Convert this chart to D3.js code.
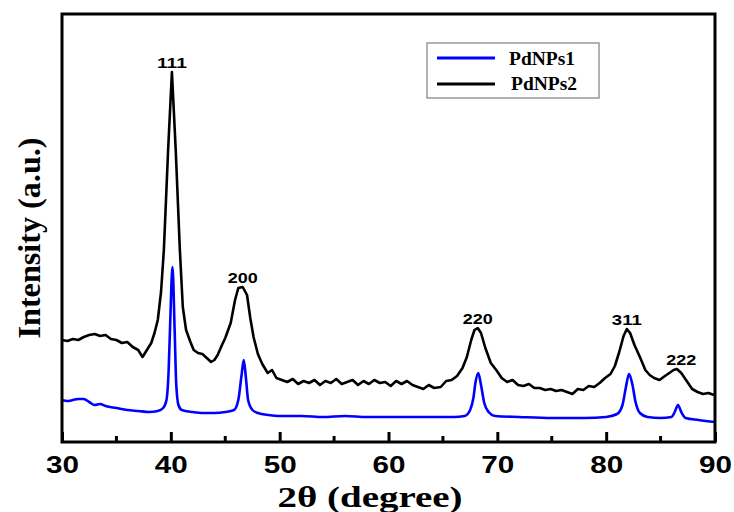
<!DOCTYPE html>
<html>
<head>
<meta charset="utf-8">
<script src="https://cdn.jsdelivr.net/npm/d3@7"></script>
<style>
  body { margin: 0; background: #fff; }
</style>
</head>
<body>
<div id="chart"></div>
<script>
// XRD patterns (2theta in degree, intensity in a.u.)
var angle2 = [30.0, 30.5, 31.0, 31.5, 32.0, 32.5, 33.0, 33.5, 34.0, 34.5, 35.0, 35.5, 36.0, 36.5, 37.0, 37.4, 37.8, 38.2, 38.5, 38.8,
  39.1, 39.36, 39.75, 40.1, 40.45, 40.83, 41.1, 41.4, 41.8, 42.1, 42.5, 42.9, 43.3, 43.7, 44.0, 44.3, 44.7, 45.0, 45.5, 45.9, 46.2,
  46.6, 47.0, 47.3, 47.6, 48.0, 48.4, 48.9, 49.3, 49.7, 50.2, 50.7, 51.2, 51.7, 52.2, 52.7, 53.2, 53.7, 54.2, 54.7, 55.2,
  55.7, 56.2, 56.7, 57.2, 57.7, 58.2, 58.7, 59.2, 59.7, 60.2, 60.7, 61.2, 61.7, 62.2, 62.7, 63.2, 63.7, 64.2, 64.8, 65.3,
  65.8, 66.3, 66.8, 67.2, 67.6, 67.9, 68.2, 68.5, 68.9, 69.4, 69.9, 70.4, 70.9, 71.4, 71.9, 72.4, 72.9, 73.4, 73.9, 74.4,
  74.9, 75.4, 75.9, 76.4, 76.9, 77.4, 77.9, 78.4, 78.9, 79.4, 79.9, 80.4, 80.8, 81.2, 81.6, 81.9, 82.2, 82.6, 83.1, 83.6,
  84.0, 84.4, 84.9, 85.4, 85.8, 86.2, 86.5, 86.9, 87.4, 87.9, 88.4, 88.9, 89.4, 89.9];
var pdnps2 = [102, 101, 103, 102, 105, 107, 108, 106, 107, 103, 102, 99, 100, 95, 92, 85, 92, 99, 109, 122,
  150, 192, 292, 370, 292, 192, 135, 112, 100, 92, 89, 88, 84, 80, 82, 87, 97, 104, 119, 142, 154,
  155, 147, 124, 105, 88, 78, 69, 72, 64, 62, 60, 63, 58, 61, 59, 62, 57, 61, 59, 63,
  58, 60, 62, 57, 61, 58, 62, 59, 60, 56, 61, 58, 61, 57, 55, 53, 57, 54, 55, 61,
  62, 66, 74, 85, 102, 112, 114, 109, 94, 79, 72, 64, 60, 62, 57, 56, 58, 54, 54, 52,
  53, 51, 52, 50, 48, 53, 52, 56, 55, 59, 64, 68, 76, 90, 106, 113, 109, 97, 85, 72,
  67, 64, 62, 66, 69, 72, 73, 69, 61, 53, 50, 48, 49, 47];

var angle1 = [30.0, 30.5, 31.0, 31.5, 32.0, 32.5, 33.0, 33.5, 34.0, 35.0, 36.0, 37.0, 38.0, 38.8, 39.3, 39.6, 39.8, 39.95, 40.15, 40.35,
  40.5, 40.7, 41.0, 42.0, 43.0, 44.0, 45.0, 45.8, 46.2, 46.5, 46.7, 46.9, 47.1, 47.5, 48.0, 49.0, 50.0, 52.0, 54.0, 56.0,
  58.0, 60.0, 62.0, 64.0, 66.0, 67.0, 67.5, 67.8, 68.0, 68.25, 68.5, 68.8, 69.2, 69.8, 72.0, 75.0, 78.0, 80.0, 81.0, 81.5,
  81.8, 82.1, 82.4, 82.7, 83.1, 83.8, 85.0, 86.0, 86.3, 86.6, 86.9, 87.3, 88.5, 90.0];
var pdnps1 = [42, 41, 42, 43, 43, 40, 37, 38, 36, 34, 32, 31, 30, 31, 34, 42, 72, 122, 175, 112,
  57, 37, 32, 30, 29, 29, 30, 32, 42, 67, 82, 64, 42, 32, 29, 27, 26, 26, 25, 26,
  25, 25, 25, 25, 25, 26, 32, 44, 60, 69, 57, 39, 30, 26, 25, 24, 24, 25, 28, 37,
  54, 68, 58, 40, 29, 25, 24, 25, 30, 37, 30, 24, 22, 20];

// Miller indices of the reflections
var peakLabels = ["111", "200", "220", "311", "222"];
var peakAngles = [40.1, 46.6, 68.2, 81.9, 86.9];

var xTicks = [30, 40, 50, 60, 70, 80, 90];
var xMinorTicks = [35, 45, 55, 65, 75, 85];
var seriesNames = ["PdNPs1", "PdNPs2"];

// SVG area and plot frame
var svgWidth = 734;
var svgHeight = 512;
var chartMargin = { top: 14, right: 19, bottom: 70, left: 62 };
var chartWidth = svgWidth - chartMargin.left - chartMargin.right;
var chartHeight = svgHeight - chartMargin.top - chartMargin.bottom;

var svg = d3.select("#chart")
  .append("svg")
  .attr("width", svgWidth)
  .attr("height", svgHeight);

var chartGroup = svg.append("g")
  .attr("transform", `translate(${chartMargin.left}, ${chartMargin.top})`);

// Scales
var xScale = d3.scaleLinear()
  .domain([30, 90])
  .range([0, chartWidth]);

var yScale = d3.scaleLinear()
  .domain([0, 428])
  .range([chartHeight, 0]);

// Curves
var line = d3.line()
  .x(d => xScale(d[0]))
  .y(d => yScale(d[1]));

var data2 = angle2.map((a, i) => [a, pdnps2[i]]);
var data1 = angle1.map((a, i) => [a, pdnps1[i]]);

chartGroup.append("path")
  .datum(data1)
  .attr("d", line.curve(d3.curveMonotoneX))
  .attr("fill", "none")
  .attr("stroke", "#0000ff")
  .attr("stroke-width", 2.6)
  .attr("stroke-linejoin", "round");

chartGroup.append("path")
  .datum(data2)
  .attr("d", line.curve(d3.curveLinear))
  .attr("fill", "none")
  .attr("stroke", "#000")
  .attr("stroke-width", 2.6)
  .attr("stroke-linejoin", "round");

// Peak labels sit just above the PdNPs2 maximum near each reflection
peakLabels.forEach(function(lab, i) {
  var near = data2.filter(d => Math.abs(d[0] - peakAngles[i]) <= 0.6);
  var top = d3.max(near, d => d[1]);
  chartGroup.append("text")
    .attr("x", xScale(peakAngles[i]))
    .attr("y", yScale(top) - 4)
    .attr("text-anchor", "middle")
    .attr("font-family", "Liberation Sans, Arial, sans-serif")
    .attr("font-weight", "bold")
    .attr("font-size", "15px")
    .attr("textLength", 30)
    .attr("lengthAdjust", "spacingAndGlyphs")
    .text(lab);
});

// Frame
chartGroup.append("rect")
  .attr("width", chartWidth)
  .attr("height", chartHeight)
  .attr("fill", "none")
  .attr("stroke", "#000")
  .attr("stroke-width", 3);

// Bottom axis with inward ticks
var bottomAxis = d3.axisBottom(xScale)
  .tickValues(xTicks)
  .tickSize(-10)
  .tickPadding(15)
  .tickFormat(d3.format("d"));

var xAxisGroup = chartGroup.append("g")
  .attr("transform", `translate(0, ${chartHeight})`)
  .call(bottomAxis);

xAxisGroup.select(".domain").remove();
xAxisGroup.selectAll("line").attr("stroke", "#000").attr("stroke-width", 3);
xAxisGroup.selectAll("text")
  .attr("fill", "#000")
  .attr("font-family", "Liberation Sans, Arial, sans-serif")
  .attr("font-weight", "bold")
  .attr("font-size", "23px")
  .attr("textLength", 33)
  .attr("lengthAdjust", "spacingAndGlyphs");

chartGroup.append("g")
  .attr("transform", `translate(0, ${chartHeight})`)
  .selectAll("line")
  .data(xMinorTicks)
  .enter()
  .append("line")
  .attr("x1", d => xScale(d))
  .attr("x2", d => xScale(d))
  .attr("y1", 0)
  .attr("y2", -6)
  .attr("stroke", "#000")
  .attr("stroke-width", 3);

// Axis titles
svg.append("text")
  .attr("x", 370)
  .attr("y", 507)
  .attr("text-anchor", "middle")
  .attr("font-family", "Liberation Serif, Times New Roman, serif")
  .attr("font-weight", "bold")
  .attr("font-size", "29px")
  .attr("textLength", 185)
  .attr("lengthAdjust", "spacingAndGlyphs")
  .text("2θ (degree)");

svg.append("text")
  .attr("transform", "translate(40, 238) rotate(-90)")
  .attr("text-anchor", "middle")
  .attr("font-family", "Liberation Serif, Times New Roman, serif")
  .attr("font-weight", "bold")
  .attr("font-size", "32px")
  .attr("textLength", 201)
  .attr("lengthAdjust", "spacingAndGlyphs")
  .text("Intensity (a.u.)");

// Legend
var legend = svg.append("g");
legend.append("rect")
  .attr("x", 427)
  .attr("y", 43)
  .attr("width", 172)
  .attr("height", 55)
  .attr("fill", "#fff")
  .attr("stroke", "#999")
  .attr("stroke-width", 1.5);

var legendColors = ["#0000ff", "#000"];
seriesNames.forEach(function(name, i) {
  legend.append("line")
    .attr("x1", 437)
    .attr("x2", 495)
    .attr("y1", 58 + i * 26)
    .attr("y2", 58 + i * 26)
    .attr("stroke", legendColors[i])
    .attr("stroke-width", 3);
  legend.append("text")
    .attr("x", 509 + i * 2)
    .attr("y", 65 + i * 25)
    .attr("font-family", "Liberation Serif, Times New Roman, serif")
    .attr("font-weight", "bold")
    .attr("font-size", "18px")
    .attr("textLength", 66)
    .attr("lengthAdjust", "spacingAndGlyphs")
    .text(name);
});
</script>
</body>
</html>
